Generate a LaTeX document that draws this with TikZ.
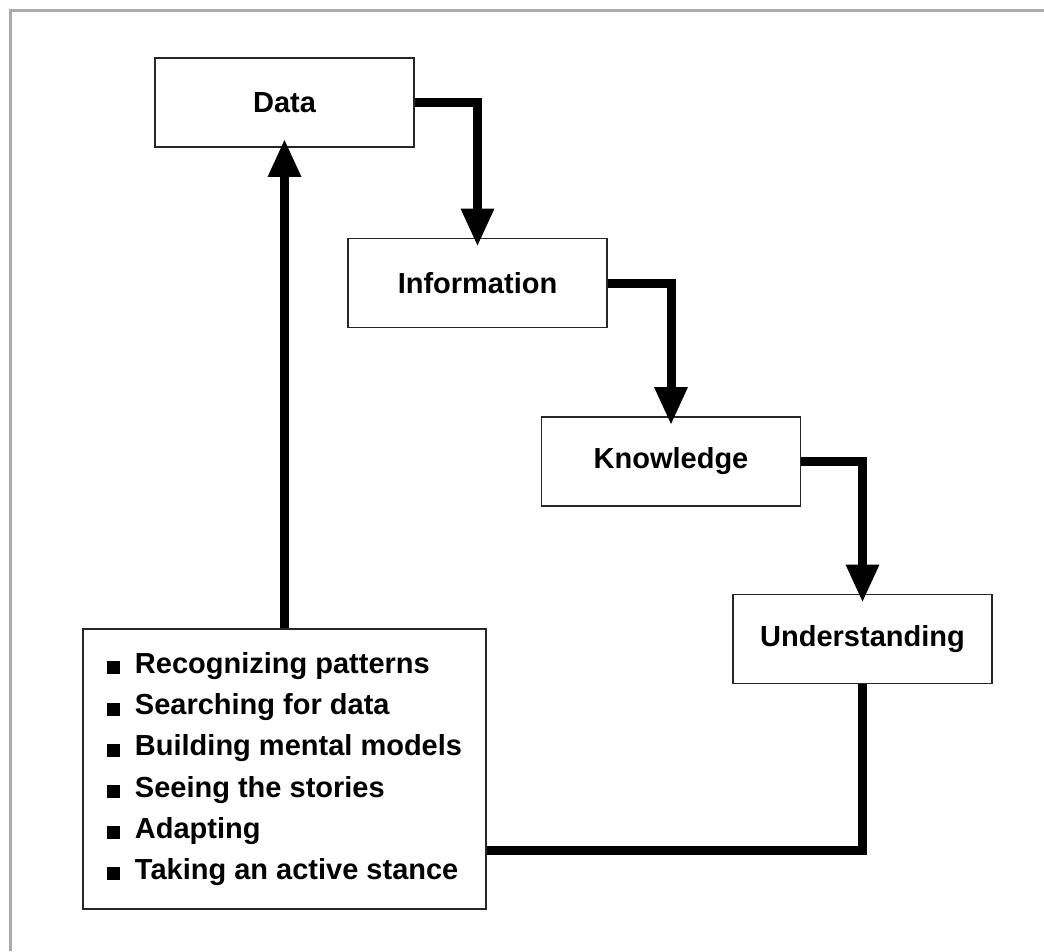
\documentclass[tikz,border=0pt]{standalone}
\usepackage{fontspec}
\setmainfont{Liberation Sans}
\usetikzlibrary{arrows.meta,calc}
\newcommand{\bul}{\rule[-1pt]{13pt}{13pt}\hspace{15pt}}
\begin{document}
\begin{tikzpicture}[x=1pt,y=-1pt,
  stagebox/.style={draw=black!85, line width=1.8pt, minimum width=259pt, minimum height=89pt,
    inner sep=0pt, font=\bfseries\fontsize{29}{34}\selectfont, fill=white},
  listbox/.style={draw=black!85, line width=1.8pt, minimum width=403pt, minimum height=280pt,
    inner sep=0pt, align=left, font=\bfseries\fontsize{29}{41.2}\selectfont},
  flow/.style={line width=9pt, -{Triangle[width=31pt,length=38pt]}, shorten >=-9pt},
  flowline/.style={line width=9pt},
  frame/.style={draw=black!33, line width=3pt}]
\useasboundingbox (0,0) rectangle (1044,951);
\fill[white] (0,0) rectangle (1044,951);
\draw[frame] (10,951) -- (10,10) -- (1044,10);

\node[stagebox] (data) at (284.5,102.5) {Data};
\node[stagebox] (info) at (477.5,283) {Information};
\node[stagebox] (know) at (671,461.5) {Knowledge};
\node[stagebox] (und) at (862.5,639) {Understanding};
\node[listbox] (list) at (284.5,769) {\bul Recognizing patterns\\
\bul Searching for data\\
\bul Building mental models\\
\bul Seeing the stories\\
\bul Adapting\\
\bul Taking an active stance};

\draw[flow] (data.east) -| (info.north);
\draw[flow] (info.east) -| (know.north);
\draw[flow] (know.east) -| (und.north);
\coordinate (turn) at (und.south |- 0,850);
\draw[flowline] (und.south) -- (turn) -- (turn -| list.east);
\draw[flow] (list.north) -- (data.south);
\end{tikzpicture}
\end{document}
